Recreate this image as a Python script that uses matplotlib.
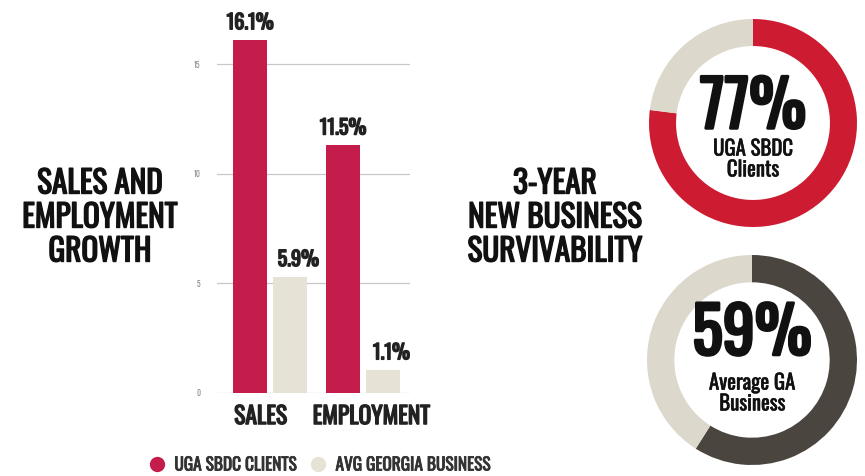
import matplotlib
matplotlib.use("Agg")
import matplotlib.pyplot as plt
from matplotlib import patheffects
from matplotlib.lines import Line2D

# data
categories = ["SALES", "EMPLOYMENT"]
sbdc_heights = [16.1, 11.3]
avg_heights = [5.3, 1.05]
sbdc_labels = ["16.1%", "11.5%"]
avg_labels = ["5.9%", "1.1%"]
y_ticks = [0, 5, 10, 15]
legend_names = ["UGA SBDC CLIENTS", "AVG GEORGIA BUSINESS"]

survival_sbdc = 77
survival_avg = 59

RED_BAR = "#c41d4b"
BEIGE_BAR = "#e6e3d6"
RED_RING = "#cd1c32"
BEIGE_RING = "#dcd8cb"
DARK_RING = "#4b4540"
INK = "#111111"
FONT = ["Oswald", "DejaVu Sans"]

W, H = 865, 476
fig = plt.figure(figsize=(W / 100, H / 100), dpi=100)


def px_axes(x0, y0, x1, y1):
    return fig.add_axes([x0 / W, 1 - y1 / H, (x1 - x0) / W, (y1 - y0) / H])


def heavy(lw, color=INK):
    # Oswald is only installed in one weight, so thicken strokes a bit
    return [patheffects.Stroke(linewidth=lw, foreground=color), patheffects.Normal()]


# bar chart: baseline at y=393 px, 15 at y=64 px
ax = px_axes(217, 393 - 17 * (393 - 64) / 15, 410, 393)
ax.set_ylim(0, 17)
ax.set_xlim(-0.57, 1.505)
x = range(len(categories))
off, bw = 0.215, 0.365
ax.bar([i - off for i in x], sbdc_heights, bw, color=RED_BAR, zorder=2)
ax.bar([i + off for i in x], avg_heights, bw, color=BEIGE_BAR, zorder=2)
for i, (h, lab) in enumerate(zip(sbdc_heights, sbdc_labels)):
    ax.text(i - off, h + 0.35, lab, ha="center", va="bottom", fontsize=14.5,
            family=FONT, color="#222222", path_effects=heavy(1.1, "#222222"))
for i, (h, lab) in enumerate(zip(avg_heights, avg_labels)):
    ax.text(i + off + 0.09, h + 0.35, lab, ha="center", va="bottom", fontsize=14.5,
            family=FONT, color="#222222", path_effects=heavy(1.1, "#222222"))
for t in y_ticks:
    ax.axhline(t, color="#c8c8c8", lw=0.9, zorder=1)
ax.set_yticks(y_ticks)
ax.set_yticklabels([str(t) for t in y_ticks], fontsize=5.5, color="#888888", family=FONT)
ax.tick_params(axis="y", length=0, pad=12)
ax.set_xticks([])
# category names sit a little off the group centres in the reference
for i, (name, shift) in enumerate(zip(categories, [-0.1, 0.09])):
    ax.text(i + shift, -0.55, name, ha="center", va="top", fontsize=17, family=FONT,
            color="#222222", clip_on=False, path_effects=heavy(1.0, "#222222"))
for s in ax.spines.values():
    s.set_visible(False)
ax.patch.set_visible(False)

# legend
handles = [Line2D([], [], marker="o", ls="", ms=10, color=RED_BAR),
           Line2D([], [], marker="o", ls="", ms=10, color=BEIGE_BAR)]
leg = fig.legend(handles, legend_names, loc="center left", bbox_to_anchor=(131 / W, 1 - 465 / H),
                 ncol=2, frameon=False, handletextpad=0.0, columnspacing=0.2, borderpad=0,
                 prop={"family": FONT, "size": 12.5}, labelcolor="#333333")
for t in leg.get_texts():
    t.set_path_effects(heavy(0.6, "#333333"))

# titles
for cx, title in [(100, "SALES AND\nEMPLOYMENT\nGROWTH"), (555, "3-YEAR\nNEW BUSINESS\nSURVIVABILITY")]:
    fig.text(cx / W, 1 - 218 / H, title, ha="center", va="center", fontsize=22.5,
             family=FONT, linespacing=1.12, color=INK, path_effects=heavy(1.0))


def donut(cx, cy, r, pct, color, big, small, base_y, small_y):
    dax = px_axes(cx - r, cy - r, cx + r, cy + r)
    dax.pie([pct, 100 - pct], colors=[color, BEIGE_RING], startangle=90, counterclock=False,
            radius=1, wedgeprops={"width": 0.26, "linewidth": 0})
    dax.set_xlim(-1, 1)
    dax.set_ylim(-1, 1)
    dax.set_aspect("equal")
    dax.axis("off")
    dax.text(0, base_y, big, ha="center", va="baseline", fontsize=46,
             family=FONT, color=INK, path_effects=heavy(2.2))
    dax.text(0, small_y, small, ha="center", va="top", fontsize=15, family=FONT,
             linespacing=1.05, color=INK, path_effects=heavy(0.4))


donut(753, 123, 104, survival_sbdc, RED_RING, f"{survival_sbdc}%", "UGA SBDC\nClients", -0.05, -0.15)
donut(752, 360, 105, survival_avg, DARK_RING, f"{survival_avg}%", "Average GA\nBusiness", 0.05, -0.12)

fig.savefig("out.png", dpi=100)
